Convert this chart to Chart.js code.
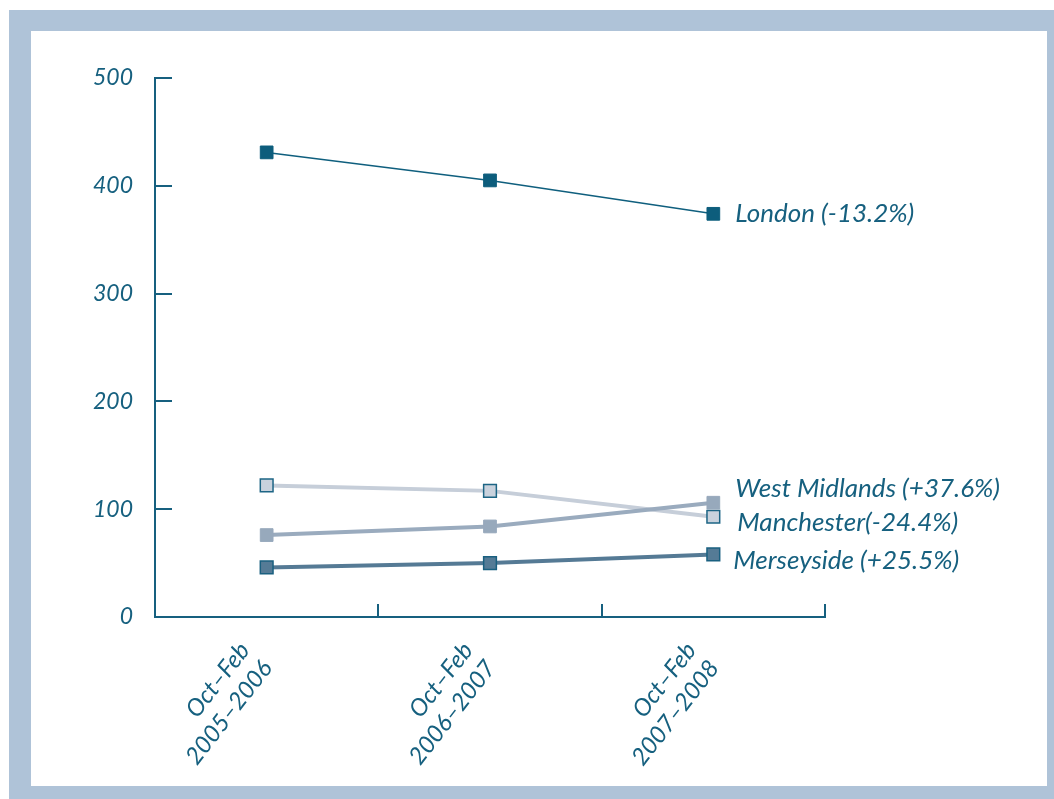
<!DOCTYPE html>
<html>
<head>
<meta charset="utf-8">
<script src="https://cdn.jsdelivr.net/npm/chart.js@4"></script>
<style>
  html, body { margin: 0; padding: 0; background: #fff; }
  #frame {
    position: absolute; left: 9px; top: 10px; width: 1045px; height: 789px;
    background: #afc3d8;
  }
  #inner {
    position: absolute; left: 22px; top: 21px; width: 1016px; height: 755px;
    background: #fff;
  }
</style>
</head>
<body>
<div id="frame"><div id="inner"><canvas id="myChart" width="1016" height="755"></canvas></div></div>
<script>
  // Data
  var periods = [['Oct–Feb', '2005–2006'], ['Oct–Feb', '2006–2007'], ['Oct–Feb', '2007–2008']];
  var london = [431, 405, 374];
  var westMidlands = [76, 84, 106];
  var manchester = [122, 117, 93];
  var merseyside = [46, 50, 58];
  var yTicks = [0, 100, 200, 300, 400, 500];

  var ink = '#16607f';
  var font = "'Lato', 'Open Sans', sans-serif";

  // Draw small inward tick marks on both axes
  var innerTicks = {
    id: 'innerTicks',
    afterDraw: function (chart) {
      var ctx = chart.ctx, x = chart.scales.x, y = chart.scales.y;
      ctx.save();
      ctx.strokeStyle = ink;
      ctx.lineWidth = 2;
      ctx.beginPath();
      yTicks.forEach(function (v) {
        var py = Math.round(y.getPixelForValue(v));
        ctx.moveTo(x.left, py);
        ctx.lineTo(x.left + 17, py);
      });
      var step = x.getPixelForValue(1) - x.getPixelForValue(0);
      for (var i = 0; i <= periods.length; i++) {
        var px = Math.round(x.getPixelForValue(i) - step / 2);
        ctx.moveTo(px, y.bottom);
        ctx.lineTo(px, y.bottom - 13);
      }
      ctx.stroke();
      ctx.restore();
    }
  };

  // Series labels beside the last point
  var endLabels = {
    id: 'endLabels',
    afterDatasetsDraw: function (chart, args, opts) {
      var ctx = chart.ctx;
      ctx.save();
      ctx.fillStyle = ink;
      ctx.font = 'italic 26px ' + font;
      ctx.textBaseline = 'middle';
      chart.data.datasets.forEach(function (ds, i) {
        var meta = chart.getDatasetMeta(i);
        var pt = meta.data[meta.data.length - 1];
        ctx.fillText(ds.label, pt.x + opts.dx[i], pt.y + opts.dy[i]);
      });
      ctx.restore();
    }
  };

  var ctx = document.getElementById('myChart').getContext('2d');

  var myChart = new Chart(ctx, {
    type: 'line',
    data: {
      labels: periods,
      datasets: [{
        label: 'London (-13.2%)',
        data: london,
        borderColor: '#0f5f7e',
        borderWidth: 1.5,
        pointBackgroundColor: '#0d5d7c',
        pointBorderColor: '#0d5d7c',
        pointBorderWidth: 1
      }, {
        label: 'West Midlands (+37.6%)',
        data: westMidlands,
        borderColor: '#9aabbe',
        borderWidth: 4,
        pointBackgroundColor: '#97a9bc',
        pointBorderColor: '#97a9bc',
        pointBorderWidth: 1
      }, {
        label: 'Manchester(-24.4%)',
        data: manchester,
        borderColor: '#c6ced9',
        borderWidth: 4,
        pointBackgroundColor: '#c9d2dd',
        pointBorderColor: '#1d6585',
        pointBorderWidth: 1.5
      }, {
        label: 'Merseyside (+25.5%)',
        data: merseyside,
        borderColor: '#557a95',
        borderWidth: 4,
        pointBackgroundColor: '#557b96',
        pointBorderColor: '#1a6080',
        pointBorderWidth: 1.5
      }]
    },
    options: {
      responsive: false,
      animation: false,
      layout: { padding: { left: 0, top: 47, right: 222, bottom: 0 } },
      elements: {
        line: { tension: 0 },
        point: { pointStyle: 'rect', radius: 9, hoverRadius: 9 }
      },
      plugins: {
        legend: { display: false },
        tooltip: { enabled: false },
        endLabels: { dx: [22, 22, 24, 20], dy: [0, -14, 6, 6] }
      },
      scales: {
        x: {
          offset: true,
          afterFit: function (s) { s.height = 169; },
          grid: { display: true, drawOnChartArea: false, drawTicks: false, color: 'transparent', offset: true },
          border: { display: true, color: ink, width: 2 },
          ticks: {
            color: ink,
            font: { family: font, size: 24, style: 'italic' },
            minRotation: 52,
            maxRotation: 52,
            padding: 20,
            labelOffset: -22
          }
        },
        y: {
          min: 0,
          max: 500,
          afterFit: function (s) { s.width = 124; },
          grid: { drawOnChartArea: false, drawTicks: false, color: 'transparent' },
          border: { display: true, color: ink, width: 2 },
          ticks: {
            stepSize: 100,
            color: ink,
            padding: 22,
            font: { family: font, size: 23, style: 'italic' }
          }
        }
      }
    },
    plugins: [innerTicks, endLabels]
  });
</script>
</body>
</html>
